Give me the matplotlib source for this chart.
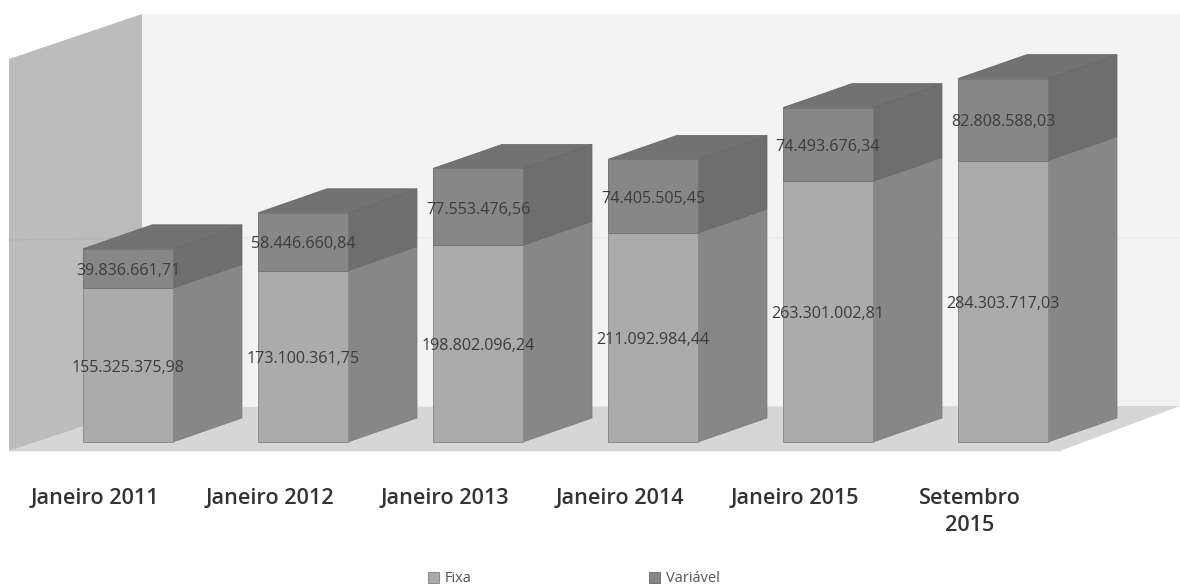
import matplotlib
matplotlib.use("Agg")
import matplotlib.pyplot as plt
from matplotlib.patches import Polygon

categories = ['Janeiro 2011', 'Janeiro 2012', 'Janeiro 2013', 'Janeiro 2014', 'Janeiro 2015', 'Setembro\n2015']
fixa = [155325375.98, 173100361.75, 198802096.24, 211092984.44, 263301002.81, 284303717.03]
variavel = [39836661.71, 58446660.84, 77553476.56, 74405505.45, 74493676.34, 82808588.03]

W, H = 1180, 587
FLOOR_PX = 452      # front edge of the floor
BASE_PX = 442       # bar base
PX_PER_UNIT = 0.99e-6
STEP = 175
X0 = 128


def xd(px):
    return (px - X0) / STEP


def yd(py):
    return (BASE_PX - py) / PX_PER_UNIT


def fmt(v):
    return f"{v:,.2f}".replace(",", "#").replace(".", ",").replace("#", ".")


plt.rcParams['font.family'] = ['Open Sans', 'DejaVu Sans']

fig = plt.figure(figsize=(W / 100, H / 100), dpi=100, facecolor='white')
ax = fig.add_axes([0, 1 - FLOOR_PX / H, 1, FLOOR_PX / H])
ax.set_xlim(xd(0), xd(W))
ax.set_ylim(yd(FLOOR_PX), yd(0))
ax.patch.set_visible(False)
for s in ax.spines.values():
    s.set_visible(False)
ax.set_yticks([])

# walls and floor
ax.add_patch(Polygon([(xd(142), yd(14)), (xd(W), yd(14)), (xd(W), yd(407)), (xd(142), yd(407))],
                     fc='#f3f3f3', ec='none', zorder=0))
ax.add_patch(Polygon([(xd(9), yd(59)), (xd(142), yd(14)), (xd(142), yd(407)), (xd(9), yd(451))],
                     fc='#bcbcbc', ec='none', zorder=1))
ax.add_patch(Polygon([(xd(9), yd(451)), (xd(1060), yd(451)), (xd(W), yd(406)), (xd(142), yd(407))],
                     fc='#d6d6d6', ec='none', zorder=1))
ax.plot([xd(9), xd(1060)], [yd(451.5), yd(451.5)], color='#a6a6a6', lw=1, zorder=2)
ax.plot([xd(9), xd(142), xd(W)], [yd(240), yd(238), yd(238)], color='#000000', alpha=0.04, lw=1, zorder=2)

x = list(range(len(categories)))
bar_w = 90 / STEP
dx = 69 / STEP
dy = 24 / PX_PER_UNIT
EDGE = '#7a7a7a'

b1 = ax.bar(x, fixa, bar_w, color='#ababab', edgecolor='#8c8c8c', lw=0.7, zorder=4, label='Fixa')
b2 = ax.bar(x, variavel, bar_w, bottom=fixa, color='#878787', edgecolor='#747474', lw=0.7, zorder=4, label='Variável')

for i in x:
    r = i + bar_w / 2
    l = i - bar_w / 2
    top1 = fixa[i]
    top2 = fixa[i] + variavel[i]
    ax.add_patch(Polygon([(r, 0), (r + dx, dy), (r + dx, top1 + dy), (r, top1)],
                         fc='#878787', ec=EDGE, lw=0.5, zorder=3))
    ax.add_patch(Polygon([(r, top1), (r + dx, top1 + dy), (r + dx, top2 + dy), (r, top2)],
                         fc='#6e6e6e', ec='#666666', lw=0.5, zorder=3))
    ax.add_patch(Polygon([(l, top2), (l + dx, top2 + dy), (r + dx, top2 + dy), (r, top2)],
                         fc='#727272', ec='#666666', lw=0.5, zorder=3))

for bars, vals in ((b1, fixa), (b2, variavel)):
    labels = ax.bar_label(bars, labels=[fmt(v) for v in vals], label_type='center', padding=-2,
                          fontsize=11.6, color='#3c3c3c', zorder=6)
    for t in labels:
        t.set_zorder(6)

ax.set_xticks([i - 33 / STEP for i in x], categories)
ax.tick_params(axis='x', length=0, pad=26)
for t in ax.get_xticklabels():
    t.set_fontsize(15.6)
    t.set_fontweight('semibold')
    t.set_color('#333333')
    t.set_linespacing(1.38)

fig.legend(handles=[b1, b2], loc='center', bbox_to_anchor=(574 / W, 1 - 579 / H), ncol=2, frameon=False,
           fontsize=10.5, labelcolor='#555555', handlelength=0.75, handleheight=0.75,
           handletextpad=0.4, columnspacing=12.2)

fig.savefig('out.png', dpi=100)
